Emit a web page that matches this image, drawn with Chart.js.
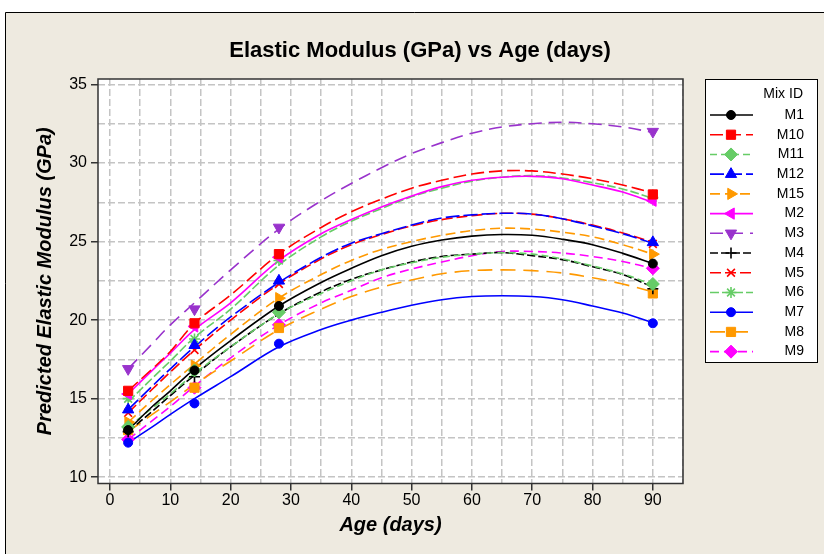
<!DOCTYPE html>
<html>
<head>
<meta charset="utf-8">
<script src="https://cdn.jsdelivr.net/npm/chart.js@4.4.1/dist/chart.umd.min.js"></script>
<style>
  html, body { margin: 0; padding: 0; background: #ffffff; }
  #wrap { width: 824px; height: 554px; position: relative; }
</style>
</head>
<body>
<div id="wrap"><canvas id="c" width="824" height="554"></canvas></div>
<script>
// ---- data ----
const chartTitle = 'Elastic Modulus (GPa) vs Age (days)';
const xTitle = 'Age (days)';
const yTitle = 'Predicted Elastic Modulus (GPa)';
const legendTitle = 'Mix ID';
const mixIds = ['M1', 'M10', 'M11', 'M12', 'M15', 'M2', 'M3', 'M4', 'M5', 'M6', 'M7', 'M8', 'M9'];

// ages of the fitted curves and of the observations
const fitDays = [3, 7, 10, 14, 20, 28, 35, 40, 45, 50, 55, 60, 65, 70, 75, 80, 85, 90];
const obsDays = [3, 14, 28, 90];

// fitted curves (GPa)
const M1_fit  = [13.0, 14.5, 15.5, 16.9, 18.7, 20.9, 22.4, 23.3, 24.1, 24.7, 25.1, 25.35, 25.45, 25.4, 25.15, 24.8, 24.25, 23.6];
const M10_fit = [15.5, 16.9, 18.0, 19.8, 21.6, 24.2, 25.9, 26.9, 27.7, 28.4, 28.9, 29.3, 29.5, 29.5, 29.3, 29.0, 28.6, 28.1];
const M11_fit = [13.2, 14.4, 15.3, 16.6, 18.3, 20.4, 21.7, 22.5, 23.2, 23.65, 24.0, 24.2, 24.3, 24.2, 23.9, 23.45, 22.95, 22.25];
const M12_fit = [14.3, 15.8, 16.9, 18.3, 20.2, 22.4, 24.0, 24.9, 25.5, 26.05, 26.5, 26.7, 26.8, 26.75, 26.45, 26.0, 25.5, 24.9];
const M15_fit = [13.5, 14.9, 15.9, 17.2, 19.1, 21.4, 22.9, 23.8, 24.5, 25.0, 25.4, 25.7, 25.85, 25.8, 25.6, 25.3, 24.8, 24.2];
const M2_fit  = [15.3, 16.8, 17.9, 19.4, 21.1, 23.8, 25.5, 26.4, 27.2, 27.9, 28.5, 28.9, 29.1, 29.15, 29.0, 28.6, 28.15, 27.5];
const M3_fit  = [16.9, 18.5, 19.7, 21.1, 23.2, 25.8, 27.6, 28.7, 29.7, 30.6, 31.3, 31.9, 32.3, 32.5, 32.6, 32.5, 32.3, 31.95];
const M4_fit  = [12.9, 14.2, 15.2, 16.5, 18.3, 20.4, 21.8, 22.6, 23.2, 23.7, 24.05, 24.2, 24.3, 24.1, 23.85, 23.4, 22.9, 22.1];
const M5_fit  = [14.1, 15.6, 16.7, 18.1, 20.0, 22.3, 23.9, 24.8, 25.45, 26.0, 26.4, 26.65, 26.8, 26.75, 26.45, 26.05, 25.55, 24.95];
const M6_fit  = [14.8, 16.3, 17.4, 18.9, 20.7, 23.5, 25.3, 26.3, 27.1, 27.85, 28.4, 28.85, 29.1, 29.2, 29.05, 28.75, 28.35, 27.75];
const M7_fit  = [12.2, 13.2, 14.0, 15.0, 16.4, 18.3, 19.4, 20.0, 20.5, 20.95, 21.3, 21.5, 21.55, 21.5, 21.3, 20.9, 20.45, 19.85];
const M8_fit  = [12.9, 14.0, 14.8, 15.9, 17.4, 19.4, 20.7, 21.5, 22.1, 22.55, 22.95, 23.15, 23.2, 23.15, 23.0, 22.7, 22.3, 21.8];
const M9_fit  = [12.4, 13.6, 14.5, 15.8, 17.6, 19.7, 21.1, 21.9, 22.7, 23.25, 23.7, 24.1, 24.37, 24.37, 24.27, 24.05, 23.73, 23.3];

// observed points (GPa) at 3, 14, 28, 90 days
const M1_obs  = [13.0, 16.8, 20.9, 23.6];
const M10_obs = [15.5, 19.8, 24.2, 28.0];
const M11_obs = [13.2, 16.8, 20.5, 22.3];
const M12_obs = [14.3, 18.4, 22.5, 24.95];
const M15_obs = [13.5, 17.1, 21.4, 24.2];
const M2_obs  = [15.3, 19.6, 24.0, 27.6];
const M3_obs  = [16.9, 20.7, 25.9, 32.0];
const M4_obs  = [12.9, 16.4, 20.5, 22.0];
const M5_obs  = [14.1, 18.1, 22.3, 24.85];
const M6_obs  = [15.0, 18.8, 23.8, 27.8];
const M7_obs  = [12.2, 14.7, 18.5, 19.8];
const M8_obs  = [13.0, 15.7, 19.5, 21.7];
const M9_obs  = [12.4, 15.7, 19.7, 23.3];

const xTickLabels = [0, 10, 20, 30, 40, 50, 60, 70, 80, 90];
const yTickLabels = [10, 15, 20, 25, 30, 35];

// ---- styles ----
const FONT = "'Liberation Sans', Arial, sans-serif";
const fits = [M1_fit, M10_fit, M11_fit, M12_fit, M15_fit, M2_fit, M3_fit, M4_fit, M5_fit, M6_fit, M7_fit, M8_fit, M9_fit];
const obs  = [M1_obs, M10_obs, M11_obs, M12_obs, M15_obs, M2_obs, M3_obs, M4_obs, M5_obs, M6_obs, M7_obs, M8_obs, M9_obs];
const styles = [
  { color: '#000000', dash: [],       point: 'circle',   rot: 0,   r: 4.5 },
  { color: '#FF0000', dash: [13, 5],  point: 'rect',     rot: 0,   r: 6.5 },
  { color: '#66CC66', dash: [7, 4],   point: 'rectRot',  rot: 0,   r: 6.5 },
  { color: '#0000FF', dash: [14, 4],  point: 'triangle', rot: 0,   r: 6.5 },
  { color: '#FF9900', dash: [10, 5],  point: 'triangle', rot: 90,  r: 6.5 },
  { color: '#FF00FF', dash: [],       point: 'triangle', rot: 270, r: 6.5 },
  { color: '#9933CC', dash: [13, 7],  point: 'triangle', rot: 180, r: 6.5 },
  { color: '#000000', dash: [8, 3],   point: 'cross',    rot: 0,   r: 5.5 },
  { color: '#FF0000', dash: [11, 4],  point: 'crossRot', rot: 0,   r: 5.5 },
  { color: '#66CC66', dash: [9, 3],   point: 'star',     rot: 0,   r: 5.5 },
  { color: '#0000FF', dash: [],       point: 'circle',   rot: 0,   r: 4.5 },
  { color: '#FF9900', dash: [15, 8],  point: 'rect',     rot: 0,   r: 6.5 },
  { color: '#FF00FF', dash: [9, 5],   point: 'rectRot',  rot: 0,   r: 6.5 }
];

const datasets = [];
mixIds.forEach((id, i) => {
  const s = styles[i];
  datasets.push({
    label: id + ' fit',
    data: fitDays.map((d, k) => ({ x: d, y: fits[i][k] })),
    borderColor: s.color,
    borderWidth: 1.6,
    borderDash: s.dash,
    pointRadius: 0,
    fill: false,
    tension: 0.35,
    order: 2
  });
});
mixIds.forEach((id, i) => {
  const s = styles[i];
  datasets.push({
    label: id,
    data: obsDays.map((d, k) => ({ x: d, y: obs[i][k] })),
    showLine: false,
    borderColor: s.color,
    backgroundColor: s.color,
    pointStyle: s.point,
    pointRotation: s.rot,
    pointRadius: s.r,
    pointBorderWidth: (s.point === 'cross' || s.point === 'crossRot' || s.point === 'star') ? 1.6 : 1,
    order: 1
  });
});

const framePlugin = {
  id: 'frame',
  beforeDraw(chart) {
    const ctx = chart.ctx;
    ctx.save();
    ctx.fillStyle = '#ffffff';
    ctx.fillRect(0, 0, chart.width, chart.height);
    ctx.fillStyle = '#EEEAE0';
    ctx.fillRect(5, 12, chart.width - 5, chart.height - 12);
    ctx.strokeStyle = '#000000';
    ctx.lineWidth = 1;
    ctx.beginPath();
    ctx.moveTo(5.5, chart.height);
    ctx.lineTo(5.5, 12.5);
    ctx.lineTo(chart.width, 12.5);
    ctx.stroke();
    const a = chart.chartArea;
    ctx.fillStyle = '#ffffff';
    ctx.fillRect(a.left, a.top, a.right - a.left, a.bottom - a.top);
    // title
    ctx.fillStyle = '#000000';
    ctx.font = 'bold 22px ' + FONT;
    ctx.textAlign = 'center';
    ctx.textBaseline = 'middle';
    ctx.fillText(chartTitle, 420, 51);
    ctx.restore();
  },
  afterDraw(chart) {
    const ctx = chart.ctx;
    const a = chart.chartArea;
    ctx.save();
    ctx.strokeStyle = '#333333';
    ctx.lineWidth = 1.5;
    ctx.strokeRect(a.left, a.top, a.right - a.left, a.bottom - a.top);
    // legend box
    const lx = 705, ly = 79, lw = 112, lh = 283;
    ctx.fillStyle = '#ffffff';
    ctx.fillRect(lx, ly, lw, lh);
    ctx.strokeStyle = '#000000';
    ctx.lineWidth = 1;
    ctx.strokeRect(lx + 0.5, ly + 0.5, lw, lh);
    ctx.fillStyle = '#000000';
    ctx.font = '14px ' + FONT;
    ctx.textAlign = 'right';
    ctx.textBaseline = 'middle';
    ctx.fillText(legendTitle, 803, 94);
    mixIds.forEach((id, i) => {
      const s = styles[i];
      const y = 115 + i * 19.72;
      ctx.save();
      ctx.strokeStyle = s.color;
      ctx.lineWidth = 1.6;
      ctx.setLineDash(s.dash);
      ctx.beginPath();
      ctx.moveTo(710, y);
      ctx.lineTo(753, y);
      ctx.stroke();
      ctx.setLineDash([]);
      ctx.fillStyle = s.color;
      ctx.strokeStyle = s.color;
      ctx.lineWidth = (s.point === 'cross' || s.point === 'crossRot' || s.point === 'star') ? 1.6 : 1;
      Chart.helpers.drawPoint(ctx, { pointStyle: s.point, rotation: s.rot, radius: s.r, borderWidth: ctx.lineWidth }, 731, y);
      ctx.restore();
      ctx.fillStyle = '#000000';
      ctx.fillText(id, 804, y);
    });
    ctx.restore();
  }
};

new Chart(document.getElementById('c'), {
  type: 'line',
  data: { datasets },
  plugins: [framePlugin],
  options: {
    responsive: false,
    animation: false,
    devicePixelRatio: 1,
    layout: { padding: { left: 28, right: 141, top: 79, bottom: 10 } },
    plugins: { legend: { display: false }, title: { display: false }, tooltip: { enabled: false } },
    scales: {
      x: {
        type: 'linear',
        min: -2, max: 95,
        afterFit(scale) { scale.height = 60.5; },
        ticks: {
          stepSize: 5, includeBounds: false, autoSkip: false, maxRotation: 0, padding: 0,
          color: '#000000', font: { family: FONT, size: 16 },
          callback: (v) => xTickLabels.includes(v) ? String(v) : ''
        },
        grid: {
          color: '#C4C4C4', lineWidth: 1.5, tickLength: 7,
          tickColor: (c) => (c.tick && xTickLabels.includes(c.tick.value)) ? '#333333' : 'rgba(0,0,0,0)',
          tickWidth: 1.5
        },
        border: { display: false, dash: [7, 3] },
        title: {
          display: true, text: xTitle, color: '#000000',
          font: { family: FONT, size: 20, weight: 'bold', style: 'italic' },
          padding: { top: 0, bottom: 7 }
        }
      },
      y: {
        type: 'linear',
        min: 9.6, max: 35.35,
        afterFit(scale) { scale.width = 70; },
        ticks: {
          stepSize: 2.5, includeBounds: false, autoSkip: false, padding: 4,
          color: '#000000', font: { family: FONT, size: 16 },
          callback: (v) => yTickLabels.includes(v) ? String(v) : ''
        },
        grid: {
          color: '#C4C4C4', lineWidth: 1.5, tickLength: 7,
          tickColor: (c) => (c.tick && yTickLabels.includes(c.tick.value)) ? '#333333' : 'rgba(0,0,0,0)',
          tickWidth: 1.5
        },
        border: { display: false, dash: [7, 3] },
        title: {
          display: true, text: yTitle, color: '#000000',
          font: { family: FONT, size: 20, weight: 'bold', style: 'italic' },
          padding: { top: 5, bottom: 0 }
        }
      }
    }
  }
});
</script>
</body>
</html>
